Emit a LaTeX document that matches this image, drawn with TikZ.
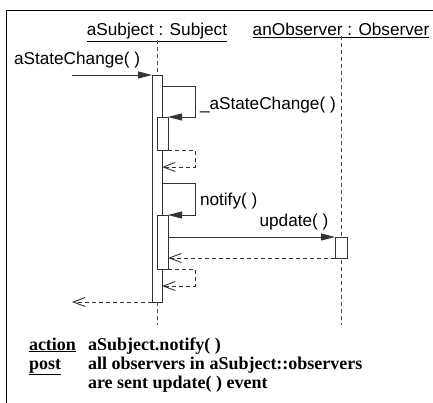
\documentclass[tikz,border=0pt]{standalone}
\usepackage{fontspec}
\setmainfont{Liberation Sans}
\newfontfamily\notefont{Liberation Serif}
\usetikzlibrary{arrows.meta}
\tikzset{
  ln/.style={draw=black!80, line width=0.9pt},
  msg/.style={ln, -{Triangle[length=14pt,width=7pt]}},
  ret/.style={ln, dash pattern=on 4pt off 3pt, -{Straight Barb[length=12pt,width=9pt,line width=0.9pt]}},
  lifeline/.style={draw=black!70, line width=0.9pt, dash pattern=on 4pt off 3pt},
  actbox/.style={draw=black!80, fill=white, line width=0.9pt, inner sep=0pt, outer sep=0pt, rectangle},
  lbl/.style={inner sep=0pt, outer sep=0pt, font=\fontsize{17.2}{20}\selectfont},
  note/.style={inner sep=0pt, outer sep=0pt, anchor=base west, font=\notefont\bfseries\fontsize{18}{19}\selectfont},
}
\begin{document}
\begin{tikzpicture}[x=1pt,y=-1pt]
\useasboundingbox (0,0) rectangle (433,403);
% frame
\draw[black, line width=0.9pt] (6,403) -- (6,10) -- (433,10);
% heads
\node[lbl, anchor=base] (subj) at (157,36) {\underline{aSubject : Subject}};
\node[lbl, anchor=base] (obsh) at (341,36) {\underline{anObserver : Observer}};
% coordinates
\coordinate (inS) at (72,75);
\coordinate (outS) at (72,302);
\coordinate (c1) at (195,86);
\coordinate (r1) at (195,167);
\coordinate (c2) at (195,183);
\coordinate (r3) at (195,286);
\coordinate (subjEnd) at (157,325);
\coordinate (obsEnd) at (341,325);
% lifelines
\draw[lifeline] ([yshift=2pt]subj.south) -- (157,75);
\draw[lifeline] (157,302) -- (subjEnd);
\draw[lifeline] ([yshift=2pt]obsh.south) -- (obsEnd);
% activation boxes
\node[actbox, minimum width=10pt, minimum height=227pt] (act1) at (157,188.5) {};
\node[actbox, minimum width=11pt, minimum height=33pt] (nest1) at (162.5,133.5) {};
\node[actbox, minimum width=11pt, minimum height=54pt] (nest2) at (162.5,242) {};
\node[actbox, minimum width=12pt, minimum height=21pt] (obs) at (341,247.5) {};
% messages
\node[lbl, anchor=base west] (m0) at (14,65) {aStateChange( )};
\draw[msg] (inS) -- (act1.north west);
\draw[msg] (act1.east |- c1) -- (c1) |- (nest1.north east);
\node[lbl, anchor=base west] (m1) at (200,110) {\_aStateChange( )};
\draw[ret] (nest1.south east) -| (r1) -- (act1.east |- r1);
\draw[msg] (act1.east |- c2) -- (c2) |- (nest2.north east);
\node[lbl, anchor=base west] (m2) at (200,206) {notify( )};
\draw[msg] (nest2.east |- obs.north west) -- (obs.north west);
\node[lbl, anchor=base] (m3) at (294,226) {update( )};
\draw[ret] (obs.south west) -- (nest2.east |- obs.south west);
\draw[ret] (nest2.south east) -| (r3) -- (act1.east |- r3);
\draw[ret] (act1.south west) -- (outS);
% notes
\node[note] (k1) at (29,350) {\underline{action}};
\node[note] (v1) at (88,350) {aSubject.notify( )};
\node[note] (k2) at (29,369) {\underline{post}};
\node[note] (v2) at (88,369) {all observers in aSubject::observers};
\node[note] (v3) at (88,388) {are sent update( ) event};
\end{tikzpicture}
\end{document}
